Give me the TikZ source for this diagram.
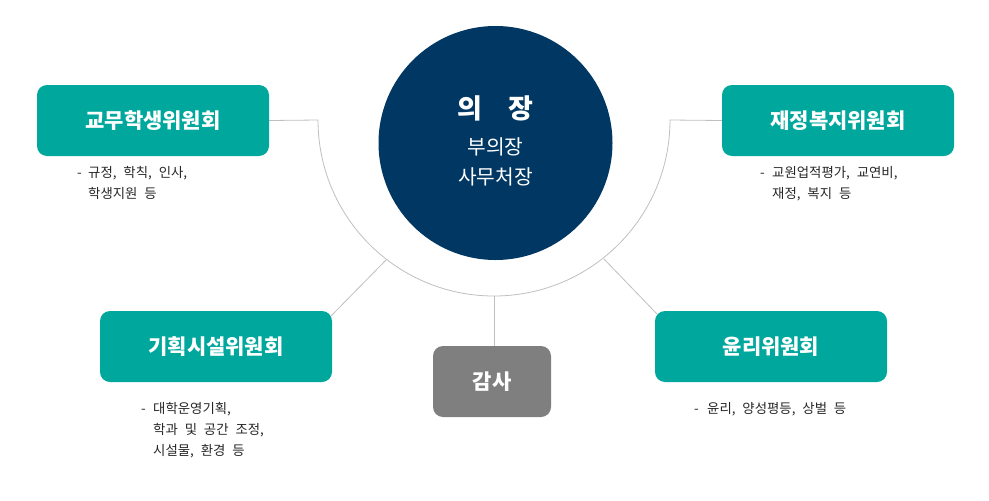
\documentclass[tikz,border=0pt]{standalone}
\usepackage{fontspec}
\newfontfamily\kr{Noto Sans CJK KR}
\newfontfamily\krd[WordSpace=2.3]{Noto Sans CJK KR}
\usetikzlibrary{backgrounds,calc}
\definecolor{teal1}{HTML}{00A79D}
\definecolor{navy1}{HTML}{003763}
\definecolor{gray1}{HTML}{7F7F7F}
\definecolor{line1}{HTML}{BFBFBF}
\begin{document}
\begin{tikzpicture}[x=1pt,y=-1pt,
  box/.style={rounded corners=10pt, minimum width=232pt, minimum height=71pt, fill=teal1, text=white, font=\kr\bfseries\fontsize{21}{24}\selectfont, inner sep=0pt},
  desc/.style={anchor=base west, font=\krd\fontsize{13.4}{16}\selectfont, inner sep=0pt, text=black!85},
  conn/.style={draw=line1, line width=0.8pt}]
\useasboundingbox (0,0) rectangle (989,501);

% center circle
\node[circle, fill=navy1, minimum size=234pt, inner sep=0pt] (ch) at (495.5,143) {};
\node[text=white, font=\kr\bfseries\fontsize{27}{30}\selectfont, inner sep=0pt] (t1) at (495.5,108) {의\hspace{26pt}장};
\node[text=white, font=\kr\fontsize{20.3}{22}\selectfont, inner sep=0pt] (t2) at (495.5,147) {부의장};
\node[text=white, font=\kr\fontsize{20.3}{22}\selectfont, inner sep=0pt] (t3) at (495.5,177) {사무처장};

% committee boxes
\node[box] (b1) at (153,120.5) {교무학생위원회};
\node[box] (b2) at (838,120.5) {재정복지위원회};
\node[box] (b3) at (216,346.5) {기획시설위원회};
\node[box] (b4) at (771,346.5) {윤리위원회};
\node[box, fill=gray1, minimum width=118pt] (b5) at (492,381.5) {감사};

% descriptions
\node[desc] (d1a) at (77,177) {\makebox[11pt][l]{-}규정, 학칙, 인사,};
\node[desc] (d1b) at (88,198) {학생지원 등};
\node[desc] (d2a) at (760,177) {\makebox[12pt][l]{-}교원업적평가, 교연비,};
\node[desc] (d2b) at (772,198) {재정, 복지 등};
\node[desc] (d3a) at (141,413.5) {\makebox[12pt][l]{-}대학운영기획,};
\node[desc] (d3b) at (153,434.5) {학과 및 공간 조정,};
\node[desc] (d3c) at (153,455.5) {시설물, 환경 등};
\node[desc] (d4a) at (694,413) {\makebox[13pt][l]{-}윤리, 양성평등, 상벌 등};

% connectors
\coordinate (al) at (318,120);
\coordinate (abot) at (494,296);
\coordinate (aleft) at (386,260);
\coordinate (aright) at (604,259);
\begin{pgfonlayer}{background}
\draw[conn] (b1.east) -- (al) arc[start angle=180, end angle=0, radius=176] -- (b2.west);
\draw[conn] (abot) -- (abot |- b5.north);
\draw[conn] (aleft) -- ([shift={(-1,5)}]b3.north east);
\draw[conn] (aright) -- ([shift={(2,3)}]b4.north west);
\end{pgfonlayer}
\end{tikzpicture}
\end{document}
